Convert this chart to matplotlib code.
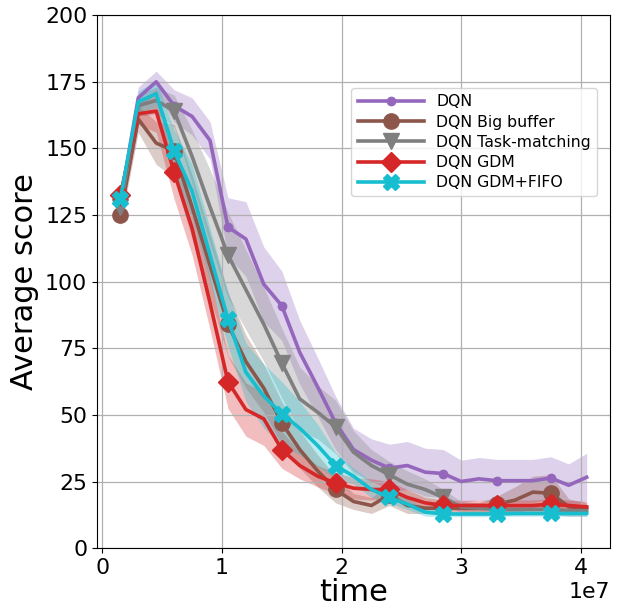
import matplotlib
matplotlib.use("Agg")
import matplotlib.pyplot as plt
import numpy as np

time = [1.5e6, 3.0e6, 4.5e6, 6.0e6, 7.5e6, 9.0e6, 10.5e6, 12.0e6, 13.5e6,
        15.0e6, 16.5e6, 18.0e6, 19.5e6, 21.0e6, 22.5e6, 24.0e6, 25.5e6, 27.0e6,
        28.5e6, 30.0e6, 31.5e6, 33.0e6, 34.5e6, 36.0e6, 37.5e6, 39.0e6, 40.5e6]

labels = ["DQN", "DQN Big buffer", "DQN Task-matching", "DQN GDM", "DQN GDM+FIFO"]

dqn = [130, 169, 175, 166, 162, 153, 120.5, 116, 99, 91, 73.5, 60.5, 47, 37, 33,
       30, 31, 28.5, 28, 25, 26, 25.3, 25.3, 25.3, 26.3, 23.6, 26.6]
dqn_std = [3, 4, 4, 6, 7, 7, 11, 14, 14, 13, 12, 11, 10, 8, 8, 9, 9, 9, 9, 8, 8,
           8, 8, 8, 8, 8, 9]

big_buffer = [125, 161, 152, 149, 128, 106, 84, 70, 60, 47, 37, 29, 22, 17.5, 16,
              20, 16, 15, 15, 15, 15, 16.5, 18, 21, 20.6, 15.5, 15]
big_buffer_std = [4, 5, 8, 10, 12, 12, 12, 10, 9, 8, 7, 6, 5, 3, 3, 4, 3, 2, 2, 2,
                  2, 3, 5, 6, 7, 3, 2]

task_matching = [128, 166, 168, 164, 147, 128, 110, 97, 84, 69.5, 56, 51, 45.5,
                 36, 31, 27.5, 24, 22, 19, 15.5, 15, 14.5, 14.5, 14.5, 14.5, 14, 14]
task_matching_std = [3, 4, 5, 6, 10, 14, 16, 15, 14, 13, 12, 10, 10, 8, 6, 5, 5,
                     4, 3, 2, 2, 2, 2, 2, 2, 2, 2]

gdm = [132.5, 163, 164, 141, 120, 92, 62.5, 52, 48.5, 37, 31, 27, 24.4, 22.5, 22,
       22, 19, 17, 16, 16, 16, 16, 16, 16, 16.5, 16, 15.5]
gdm_std = [3, 4, 8, 10, 10, 10, 10, 10, 10, 7, 5, 4, 4, 4, 4, 3, 3, 2, 2, 2, 2, 2,
           2, 2, 2, 2, 2]

gdm_fifo = [131, 167.5, 170.5, 149, 134, 110, 86, 66, 57, 50.5, 45, 38.5, 31, 27,
            22, 19, 16.5, 13.5, 12.8, 12.8, 12.8, 12.8, 13, 13, 13, 13, 13]
gdm_fifo_std = [3, 4, 5, 8, 10, 10, 10, 11, 12, 12, 10, 8, 5, 3, 3, 2, 2, 1.5, 1,
                1, 1, 1, 1, 1, 1, 1, 1]

series = [dqn, big_buffer, task_matching, gdm, gdm_fifo]
stds = [dqn_std, big_buffer_std, task_matching_std, gdm_std, gdm_fifo_std]
colors = ["tab:purple", "tab:brown", "tab:gray", "tab:red", "tab:cyan"]
markers = ["o", "o", "v", "D", "X"]
msizes = [6, 11, 11, 10.5, 11]

fig = plt.figure(figsize=(6.18, 6.07), dpi=100)
ax = fig.add_axes([0.157, 0.097, 0.83, 0.878])

x = np.array(time)
for y, s, c, m, ms, lab in zip(series, stds, colors, markers, msizes, labels):
    y = np.array(y, dtype=float)
    s = np.array(s, dtype=float)
    ax.fill_between(x, y - s, y + s, color=c, alpha=0.3, linewidth=0)
    ax.plot(x, y, color=c, lw=2.6, marker=m, markersize=ms, markevery=3, label=lab)

ax.set_ylim(0, 200)
ax.set_yticks([0, 25, 50, 75, 100, 125, 150, 175, 200])
ax.set_xticks([0, 1e7, 2e7, 3e7, 4e7])
ax.grid(True, color="#b0b0b0", lw=0.9)
ax.tick_params(labelsize=15.8)
ax.xaxis.get_offset_text().set_fontsize(15.8)
ax.set_xlabel("time", fontsize=22, labelpad=0)
ax.set_ylabel("Average score", fontsize=22, labelpad=4)

ax.legend(loc="upper right", bbox_to_anchor=(0.975, 0.863), borderaxespad=0,
          fontsize=11.3, handlelength=4.2, labelspacing=0.33)

fig.savefig("out.png", dpi=100)
